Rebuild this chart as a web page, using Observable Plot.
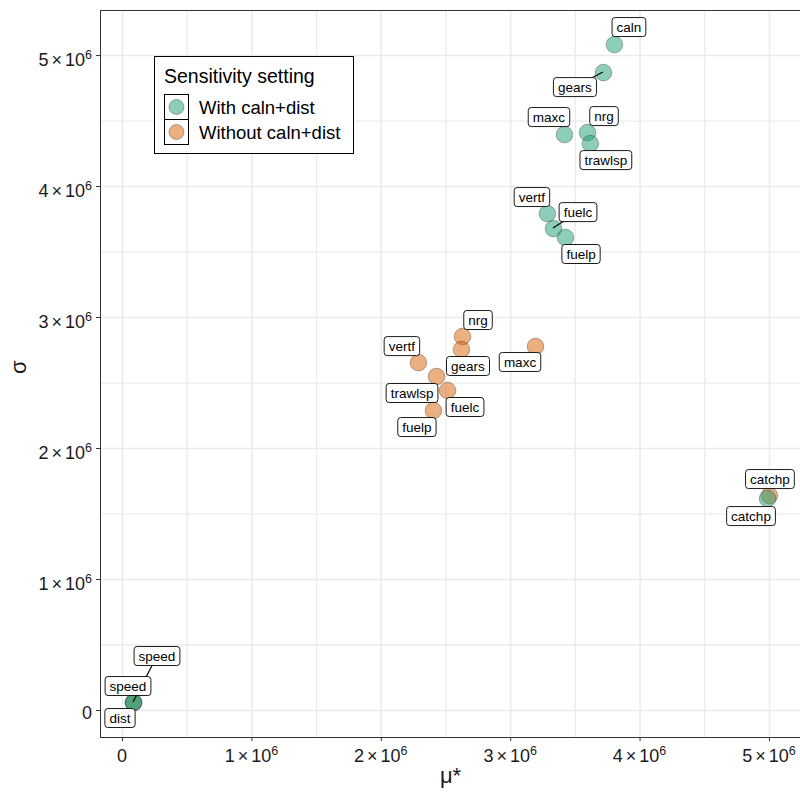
<!DOCTYPE html>
<html><head><meta charset="utf-8">
<script src="https://cdn.jsdelivr.net/npm/d3@7"></script>
<script src="https://cdn.jsdelivr.net/npm/@observablehq/plot@0.6"></script>
<style>body{margin:0;background:#fff;} #chart{position:relative;width:800px;height:793px;}</style>
</head><body><div id="chart"></div>
<script>
// ---- data ----
const settings = ["With caln+dist", "Without caln+dist"];
const settingColors = ["#1b9e77", "#d95f02"];

const withParams = ["caln","gears","maxc","nrg","trawlsp","vertf","fuelc","fuelp","catchp","speed","dist"];
const withMu     = [3.802e6, 3.717e6, 3.416e6, 3.594e6, 3.616e6, 3.284e6, 3.331e6, 3.424e6, 4.985e6, 0.085e6, 0.085e6];
const withSigma  = [5.084e6, 4.870e6, 4.397e6, 4.412e6, 4.328e6, 3.794e6, 3.679e6, 3.611e6, 1.618e6, 0.061e6, 0.061e6];

const withoutParams = ["nrg","gears","vertf","maxc","trawlsp","fuelc","fuelp","catchp","speed"];
const withoutMu     = [2.628e6, 2.620e6, 2.287e6, 3.192e6, 2.427e6, 2.512e6, 2.403e6, 5.000e6, 0.085e6];
const withoutSigma  = [2.855e6, 2.756e6, 2.656e6, 2.779e6, 2.550e6, 2.443e6, 2.290e6, 1.641e6, 0.061e6];

// repelled label placement (pixel nudges from the point) and whether a leader segment is drawn
const withLabelNudge    = [[15,-17],[-28,15],[-15,-17],[17,-16],[16,17],[-15,-16],[25,-16],[16,17],[-16,18],[-5,-16],[-13,16]];
const withSegment       = [false,true,false,false,false,false,true,false,false,false,false];
const withoutLabelNudge = [[16,-16],[7,17],[-16,-16],[-15,16],[-24,17],[18,17],[-16,17],[1,-16],[24,-46]];
const withoutSegment    = [false,false,false,false,false,false,false,false,true];

const xTicks = [0, 1e6, 2e6, 3e6, 4e6, 5e6];
const yTicks = [0, 1e6, 2e6, 3e6, 4e6, 5e6];
const xMinor = [0.5e6, 1.5e6, 2.5e6, 3.5e6, 4.5e6];
const yMinor = [0.5e6, 1.5e6, 2.5e6, 3.5e6, 4.5e6];

// ---- table ----
const pts = [
  ...withoutParams.map((p,i) => ({param:p, setting:settings[1], mu:withoutMu[i], sigma:withoutSigma[i], nudge:withoutLabelNudge[i], seg:withoutSegment[i]})),
  ...withParams.map((p,i) => ({param:p, setting:settings[0], mu:withMu[i], sigma:withSigma[i], nudge:withLabelNudge[i], seg:withSegment[i]}))
];

const FONT = "'Liberation Sans', Arial, Helvetica, sans-serif";

const plot = Plot.plot({
  width: 800, height: 793,
  marginLeft: 100, marginRight: 0, marginTop: 10, marginBottom: 56,
  style: {fontFamily: FONT, background: "#fff", color: "#1a1a1a"},
  x: {domain: [-0.17e6, 5.24e6]},
  y: {domain: [-0.206e6, 5.344e6]},
  color: {domain: settings, range: settingColors},
  marks: [
    Plot.ruleX(xMinor, {stroke: "#ebebeb", strokeWidth: 1.3}),
    Plot.ruleY(yMinor, {stroke: "#ebebeb", strokeWidth: 1.3}),
    Plot.ruleX(xTicks, {stroke: "#ebebeb", strokeWidth: 1.6}),
    Plot.ruleY(yTicks, {stroke: "#ebebeb", strokeWidth: 1.6}),
    Plot.dot(pts, {x: "mu", y: "sigma", fill: "setting", r: 8.3, fillOpacity: 0.5, stroke: "#333", strokeOpacity: 0.55, strokeWidth: 0.7}),
    Plot.frame({stroke: "#333", strokeWidth: 1}),
    Plot.axisX(xTicks, {tickFormat: () => "", tickSize: 4, label: null, stroke: "#333"}),
    Plot.axisY(yTicks, {tickFormat: () => "", tickSize: 4, label: null, stroke: "#333"}),
    Plot.text(["μ*"], {frameAnchor: "bottom", dy: 45, fontSize: 22}),
    Plot.text(["σ"], {frameAnchor: "left", dx: -82, rotate: -90, fontSize: 22})
  ]
});
document.getElementById("chart").appendChild(plot);

// scales from the plot
const sx = plot.scale("x"), sy = plot.scale("y");
const fx = sx.apply ? sx.apply : d3.scaleLinear(sx.domain, sx.range);
const fy = sy.apply ? sy.apply : d3.scaleLinear(sy.domain, sy.range);

const svg = d3.select(plot.tagName.toLowerCase() === "svg" ? plot : plot.querySelector("svg"));

// tick labels  m×10^6  (plotmath style)
function tickLabel(g, v, x, y, anchor) {
  const t = g.append("text").attr("x", x).attr("y", y).attr("text-anchor", anchor)
    .attr("font-size", 18).attr("fill", "#1a1a1a");
  if (v === 0) { t.text("0"); return; }
  t.append("tspan").text(String(Math.round(v / 1e6)));
  t.append("tspan").attr("dx", 3).text("×");
  t.append("tspan").attr("dx", 3).text("10");
  t.append("tspan").attr("dy", -7).attr("font-size", 12.5).text("6");
}
const tg = svg.append("g").attr("font-family", FONT);
xTicks.forEach(v => tickLabel(tg, v, fx(v), 762, "middle"));
yTicks.forEach(v => tickLabel(tg, v, 92, fy(v) + (v === 0 ? 9 : 11), "end"));

// leader segments
const segG = svg.append("g");
pts.filter(d => d.seg).forEach(d => {
  const px = fx(d.mu), py = fy(d.sigma);
  segG.append("line").attr("x1", px).attr("y1", py)
    .attr("x2", px + d.nudge[0]).attr("y2", py + d.nudge[1])
    .attr("stroke", "#000").attr("stroke-width", 1.2);
});

// labels with boxes
const labG = svg.append("g").attr("font-family", FONT).attr("font-size", 13.5);
pts.forEach(d => {
  const cx = fx(d.mu) + d.nudge[0], cy = fy(d.sigma) + d.nudge[1];
  const g = labG.append("g");
  const rect = g.append("rect");
  const t = g.append("text").attr("x", cx).attr("y", cy + 4.7).attr("text-anchor", "middle").attr("fill", "#000").text(d.param);
  const bb = t.node().getBBox();
  const w = bb.width + 9, h = 19;
  rect.attr("x", cx - w/2).attr("y", cy - h/2).attr("width", w).attr("height", h)
    .attr("rx", 3).attr("fill", "#fff").attr("stroke", "#000").attr("stroke-width", 0.9);
});

// legend
const lg = svg.append("g").attr("font-family", FONT).attr("fill", "#000").attr("text-anchor", "start");
lg.append("rect").attr("x", 154.5).attr("y", 56.5).attr("width", 199).attr("height", 97)
  .attr("fill", "#fff").attr("stroke", "#000").attr("stroke-width", 1);
lg.append("text").attr("x", 164).attr("y", 83).attr("font-size", 19.5).attr("text-anchor", "start").text("Sensitivity setting");
settings.forEach((s, i) => {
  const y0 = 94 + i * 25;
  lg.append("rect").attr("x", 164.5).attr("y", y0 + 0.5).attr("width", 24).attr("height", 25)
    .attr("fill", "#fff").attr("stroke", "#000").attr("stroke-width", 1);
  lg.append("circle").attr("cx", 176.5).attr("cy", y0 + 13).attr("r", 7.5)
    .attr("fill", settingColors[i]).attr("fill-opacity", 0.5).attr("stroke", "#333").attr("stroke-opacity", 0.55).attr("stroke-width", 0.7);
  lg.append("text").attr("x", 199).attr("y", y0 + 19.5).attr("font-size", 18.5).attr("text-anchor", "start").text(s);
});
</script>
</body></html>
